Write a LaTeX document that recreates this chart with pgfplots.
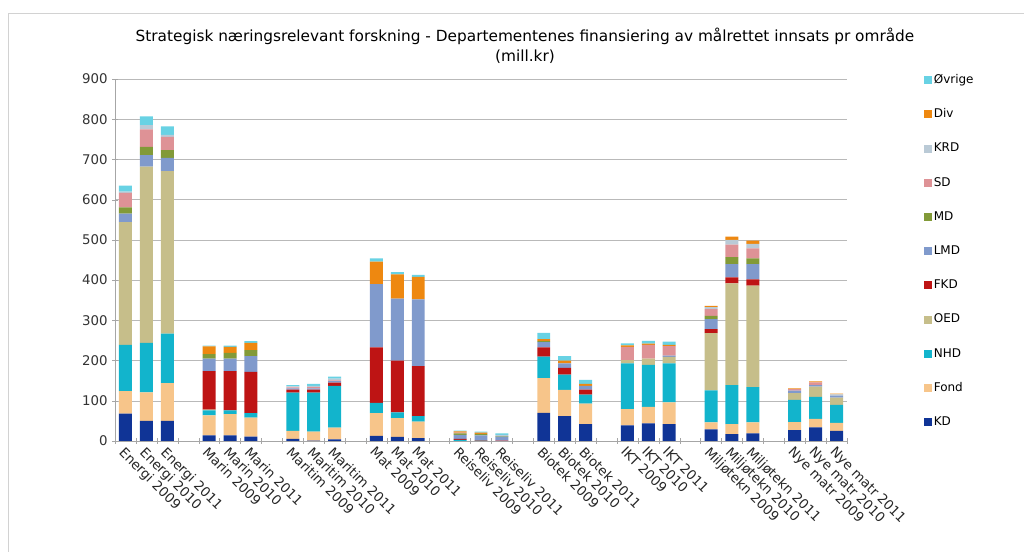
\documentclass[border=0pt]{standalone}
\usepackage{pgfplots}
\pgfplotsset{compat=1.18}
\usepackage{pgfplotstable}
\usepackage{fontspec}
\setmainfont{DejaVu Sans}

\definecolor{cKD}{RGB}{16,52,150}
\definecolor{cFond}{RGB}{247,197,138}
\definecolor{cNHD}{RGB}{18,180,204}
\definecolor{cOED}{RGB}{198,190,138}
\definecolor{cFKD}{RGB}{190,20,20}
\definecolor{cLMD}{RGB}{128,154,204}
\definecolor{cMD}{RGB}{130,154,56}
\definecolor{cSD}{RGB}{222,146,150}
\definecolor{cKRD}{RGB}{186,202,214}
\definecolor{cDiv}{RGB}{238,136,16}
\definecolor{cOvr}{RGB}{104,210,228}

% x: slot position (4 slots per area, the fourth left empty)
\pgfplotstableread{
x  KD Fond NHD OED FKD LMD MD SD KRD Div Ovr
0  68 56  115 305 0   21  16 36 3   0   15
1  50 71  123 438 0   29  20 44 10  0   22
2  50 94  123 404 0   33  19 33 5   0   21
4  14 50  12  2   96  31  11 0  0   19  2
5  14 53  9   0   98  31  14 0  0   15  3
6  11 47  11  0   103 39  15 0  0   18  4
8  5  20  95  0   8   3   0  2  3   0   3
9  1  22  97  0   8   3   0  3  3   0   5
10 4  29  104 0   8   4   0  2  4   0   5
12 13 56  26  0   138 157 0  0  0   56  8
13 10 47  14  0   129 154 0  0  0   60  6
14 7  41  14  0   124 166 0  0  0   56  5
16 0  0   3   0   2   10  4  2  0   3   2
17 0  0   1   0   1   12  3  1  0   3   2
18 0  0   0   0   1   10  1  0  3   0   4
20 70 86  54  0   23  13  2  0  0   5   16
21 62 65  38  0   17  11  0  0  0   7   11
22 42 51  22  0   13  9   0  0  0   5   10
24 39 40  114 8   0   0   0  33 0   4   5
25 44 41  104 16  0   0   0  34 0   3   7
26 42 54  97  16  0   3   0  24 0   3   8
28 29 17  80  142 10  25  8  17 5   3   0
29 17 25  97  253 15  33  17 31 12  8   0
30 19 27  88  252 16  38  14 25 11  8   0
32 27 20  55  17  0   6   0  4  0   2   0
33 34 21  55  25  0   4   0  7  0   2   0
34 25 20  45  18  0   5   0  0  3   2   0
}\data

\begin{document}
\begin{tikzpicture}
\begin{scope}[x=0.75pt,y=0.75pt]
\useasboundingbox (0,0) rectangle (1024,552);
\draw[gray!35] (8,0) -- (8,539) -- (1024,539);
\node[font=\fontsize{11.5}{15}\selectfont, align=center] at (525,506)
  {Strategisk næringsrelevant forskning - Departementenes finansiering av målrettet innsats pr område\\(mill.kr)};
\end{scope}
\begin{axis}[
    at={(86.25pt,83.25pt)}, anchor=south west,
    scale only axis, width=549pt, height=271.5pt,
    ybar stacked, bar width=0.62,
    xmin=-0.5, xmax=34.5, ymin=0, ymax=900,
    ytick={0,100,...,900},
    xtick=data,
    xticklabels={Energi 2009,Energi 2010,Energi 2011,Marin 2009,Marin 2010,Marin 2011,
      Maritim 2009,Maritim 2010,Maritim 2011,Mat 2009,Mat 2010,Mat 2011,
      Reiseliv 2009,Reiseliv 2010,Reiseliv 2011,Biotek 2009,Biotek 2010,Biotek 2011,
      IKT 2009,IKT 2010,IKT 2011,Miljøtekn 2009,Miljøtekn 2010,Miljøtekn 2011,
      Nye matr 2009,Nye matr 2010,Nye matr 2011},
    minor xtick={-0.5,0.5,...,34.5},
    major x tick style={draw=none},
    minor x tick style={draw=gray!70},
    ytick style={draw=gray!70},
    tick align=outside, major tick length=4pt, minor tick length=4pt,
    axis x line=bottom, axis y line=left,
    axis line style={draw=gray!70,-},
    ymajorgrids, major grid style={gray!55},
    /pgf/number format/assume math mode=true,
    yticklabel style={font=\fontsize{10}{12}\selectfont, color=black!80},
    xticklabel style={font=\fontsize{10}{12}\selectfont, color=black!85, rotate=-45, anchor=north west, inner sep=1pt},
    legend style={at={(axis description cs:1.1,1.025)}, anchor=north west, draw=none, fill=none,
      font=\fontsize{9}{11}\selectfont, row sep=14.65pt,
      nodes={inner sep=1pt, text height=7pt, text depth=2pt}},
    legend cell align=left,
    reverse legend,
    legend image code/.code={\fill[#1] (0pt,-3pt) rectangle (6pt,3pt);},
]
\addplot[fill=cKD, draw=none] table[x=x, y=KD] {\data};
\addplot[fill=cFond, draw=none] table[x=x, y=Fond] {\data};
\addplot[fill=cNHD, draw=none] table[x=x, y=NHD] {\data};
\addplot[fill=cOED, draw=none] table[x=x, y=OED] {\data};
\addplot[fill=cFKD, draw=none] table[x=x, y=FKD] {\data};
\addplot[fill=cLMD, draw=none] table[x=x, y=LMD] {\data};
\addplot[fill=cMD, draw=none] table[x=x, y=MD] {\data};
\addplot[fill=cSD, draw=none] table[x=x, y=SD] {\data};
\addplot[fill=cKRD, draw=none] table[x=x, y=KRD] {\data};
\addplot[fill=cDiv, draw=none] table[x=x, y=Div] {\data};
\addplot[fill=cOvr, draw=none] table[x=x, y=Ovr] {\data};
\legend{KD,Fond,NHD,OED,FKD,LMD,MD,SD,KRD,Div,Øvrige}
\end{axis}
\end{tikzpicture}
\end{document}
